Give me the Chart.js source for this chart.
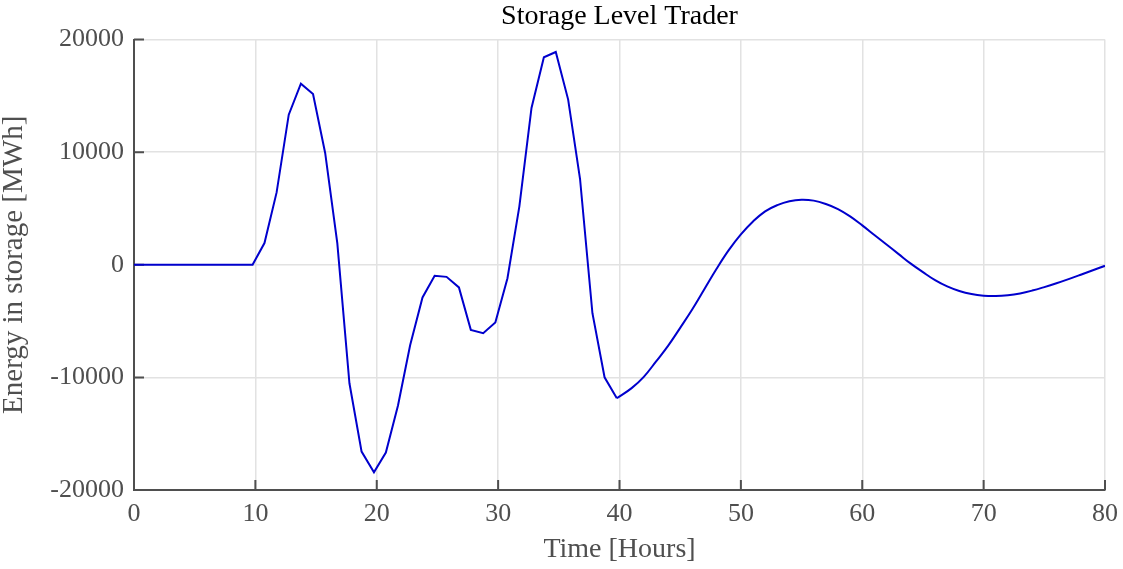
<!DOCTYPE html>
<html>
<head>
<meta charset="utf-8">
<script src="https://cdn.jsdelivr.net/npm/chart.js@4/dist/chart.umd.min.js"></script>
<style>
html,body{margin:0;padding:0;background:#fff;}
canvas{display:block;}
</style>
</head>
<body>
<canvas id="c" width="1123" height="569"></canvas>
<script>
// ---- data ----
const timeHours = [
  0, 9.77, 10.75, 11.75, 12.75, 13.75, 14.75, 15.75, 16.75, 17.75, 18.75, 19.77,
  20.75, 21.75, 22.75, 23.77, 24.77, 25.75, 26.77, 27.75, 28.77, 29.77,
  30.77, 31.75, 32.75, 33.77, 34.75, 35.77, 36.75, 37.77, 38.77, 39.78,
  41, 42, 43, 44, 45, 46, 47, 48, 49, 50, 51, 52, 53, 54, 55, 56, 57, 58, 59,
  60, 61, 62, 63, 64, 65, 66, 67, 68, 69, 70, 71, 72, 73, 74, 75, 76, 77, 78, 79, 80
];
const energyMWh = [
  0, 0, 1930, 6430, 13330, 16090, 15170, 9930, 1930, -10520, -16590, -18430,
  -16680, -12500, -7150, -2900, -980, -1070, -2010, -5780, -6070, -5130,
  -1190, 5190, 13930, 18430, 18900, 14670, 7620, -4300, -9990, -11850,
  -10950, -9950, -8600, -7200, -5600, -3950, -2150, -350, 1300, 2700, 3850, 4750, 5300, 5650, 5780, 5700, 5400, 4950, 4300,
  3500, 2650, 1800, 950, 100, -650, -1360, -1920, -2330, -2600, -2740, -2770, -2700, -2540, -2290, -1980, -1640, -1270, -880, -480, -90
];
// index where the hourly trading steps end and the smooth free oscillation begins
const smoothStartIndex = 31;
const xTickValues = [0, 10, 20, 30, 40, 50, 60, 70, 80];
const yTickValues = [-20000, -10000, 0, 10000, 20000];

const chartTitle = 'Storage Level Trader';
const xTitle = 'Time [Hours]';
const yTitle = 'Energy in storage [MWh]';

const serif = "'Liberation Serif', 'DejaVu Serif', serif";
const axisGrey = '#4f4f4f';
const lineBlue = '#0000cd';

const points = timeHours.map((t, i) => ({x: t, y: energyMWh[i]}));
const steppedPart = points.slice(0, smoothStartIndex + 1);
const smoothPart = points.slice(smoothStartIndex);

const inwardTicks = {
  id: 'inwardTicks',
  beforeDatasetsDraw(chart) {
    const {ctx, chartArea, scales} = chart;
    ctx.save();
    ctx.strokeStyle = axisGrey;
    ctx.lineWidth = 2;
    ctx.beginPath();
    xTickValues.forEach(v => {
      const px = scales.x.getPixelForValue(v);
      ctx.moveTo(px, chartArea.bottom);
      ctx.lineTo(px, chartArea.bottom - 10);
    });
    yTickValues.forEach(v => {
      const py = scales.y.getPixelForValue(v);
      ctx.moveTo(chartArea.left, py);
      ctx.lineTo(chartArea.left + 10, py);
    });
    ctx.stroke();
    ctx.restore();
  }
};

new Chart(document.getElementById('c'), {
  type: 'line',
  data: {
    datasets: [{
      data: steppedPart,
      borderColor: lineBlue,
      borderWidth: 2,
      pointRadius: 0,
      tension: 0,
      fill: false
    }, {
      data: smoothPart,
      borderColor: lineBlue,
      borderWidth: 2,
      pointRadius: 0,
      tension: 0.4,
      fill: false
    }]
  },
  options: {
    responsive: false,
    devicePixelRatio: 1,
    animation: false,
    layout: {padding: {left: 0, right: 18, top: 0, bottom: 0}},
    plugins: {
      legend: {display: false},
      tooltip: {enabled: false},
      title: {
        display: true,
        text: chartTitle,
        fullSize: false,
        color: '#000000',
        font: {family: serif, size: 28, weight: 'normal'},
        padding: {top: 0, bottom: 6}
      }
    },
    scales: {
      x: {
        type: 'linear',
        min: 0, max: 80,
        afterBuildTicks(scale) { scale.ticks = xTickValues.map(v => ({value: v})); },
        afterFit(scale) { scale.height = 79; scale.paddingLeft = 0; scale.paddingRight = 0; },
        ticks: {
          color: axisGrey,
          font: {family: serif, size: 26},
          padding: 9,
          maxRotation: 0,
          callback: v => String(v)
        },
        grid: {color: '#e2e2e2', lineWidth: 1.5, drawTicks: false, tickLength: 0},
        border: {display: true, color: axisGrey, width: 2},
        title: {
          display: true,
          text: xTitle,
          color: axisGrey,
          font: {family: serif, size: 28},
          padding: {top: 0, bottom: 3}
        }
      },
      y: {
        type: 'linear',
        min: -20000, max: 20000,
        afterBuildTicks(scale) { scale.ticks = yTickValues.map(v => ({value: v})); },
        afterFit(scale) { scale.width = 134; scale.paddingTop = 0; scale.paddingBottom = 0; },
        ticks: {
          color: axisGrey,
          font: {family: serif, size: 26},
          padding: 10,
          callback: v => String(v)
        },
        grid: {color: '#e2e2e2', lineWidth: 1.5, drawTicks: false, tickLength: 0},
        border: {display: true, color: axisGrey, width: 2},
        title: {
          display: true,
          text: yTitle,
          color: axisGrey,
          font: {family: serif, size: 29, lineHeight: 1.0},
          padding: {top: 0, bottom: 0}
        }
      }
    }
  },
  plugins: [inwardTicks]
});
</script>
</body>
</html>
